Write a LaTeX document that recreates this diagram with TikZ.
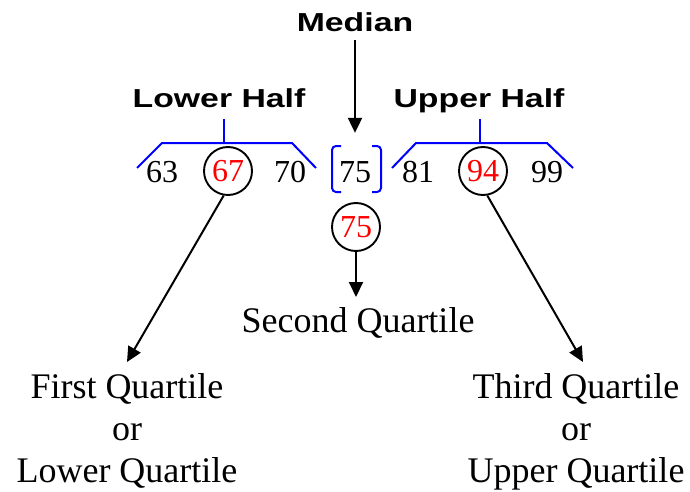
\documentclass[tikz,border=0pt]{standalone}
\usepackage{fontspec}
\usepackage{graphicx}
\setmainfont{Liberation Serif}
\newfontfamily\headfont{Liberation Sans}
\usetikzlibrary{arrows.meta}
\newcommand{\headtext}[1]{\scalebox{1.3}[1]{\headfont\bfseries #1}}

\begin{document}
\begin{tikzpicture}[x=1pt,y=-1pt,
    num/.style={inner sep=0pt,font=\fontsize{32}{36}\selectfont},
    ring/.style={circle,draw,line width=1.9pt,minimum size=48pt,inner sep=0pt,text=red,font=\fontsize{32}{36}\selectfont},
    half/.style={blue,line width=2pt},
    arr/.style={line width=2pt,-{Triangle[length=15pt,width=14pt]}},
    head/.style={inner sep=0pt,font=\fontsize{26}{30}\selectfont},
    quart/.style={align=center,inner xsep=0pt,inner ysep=11pt,font=\fontsize{36}{42}\selectfont}]
    \useasboundingbox (0,0) rectangle (690,492);

    \node[head,anchor=base] (median) at (355,32) {\headtext{Median}};
    \node[head,anchor=base] (lower) at (219,108) {\headtext{Lower Half}};
    \node[head,anchor=base] (upper) at (479,108) {\headtext{Upper Half}};

    \node[num,anchor=base] (n63) at (162,182) {63};
    \node[ring] (q1v) at (228,171) {67};
    \node[num,anchor=base] (n70) at (290,182) {70};
    \node[num,anchor=base] (n75) at (355,182) {75};
    \node[num,anchor=base] (n81) at (418,182) {81};
    \node[ring] (q3v) at (483,171) {94};
    \node[num,anchor=base] (n99) at (547,182) {99};
    \node[ring] (q2v) at (356,227) {75};

    \draw[half] (137,168) -- (162,143) -- (292,143) -- (316,168);
    \draw[half] (224,143) -- (224,119);
    \draw[half] (392,168) -- (416,143) -- (547,143) -- (573,168);
    \draw[half] (480,143) -- (480,119);
    \draw[half,rounded corners=4pt] (341,146) -- (332,146) -- (332,192) -- (341,192);
    \draw[half,rounded corners=4pt] (372,146) -- (381,146) -- (381,192) -- (372,192);

    \node[quart,anchor=north] (q1) at (127,362) {First Quartile\\or\\Lower Quartile};
    \node[quart,anchor=north,inner ysep=10pt] (q2) at (358,297) {Second Quartile};
    \node[quart,anchor=north] (q3) at (576,362) {Third Quartile\\or\\Upper Quartile};

    \draw[arr,shorten <=8pt,shorten >=28pt] (median.south) -- (n75.north);
    \draw[arr] (q2v.south) -- (q2v.south |- q2.north);
    \draw[arr] (q1v.-100) -- (q1.north);
    \draw[arr] (q3v.-80) -- ([xshift=7pt]q3.north);
\end{tikzpicture}
\end{document}
